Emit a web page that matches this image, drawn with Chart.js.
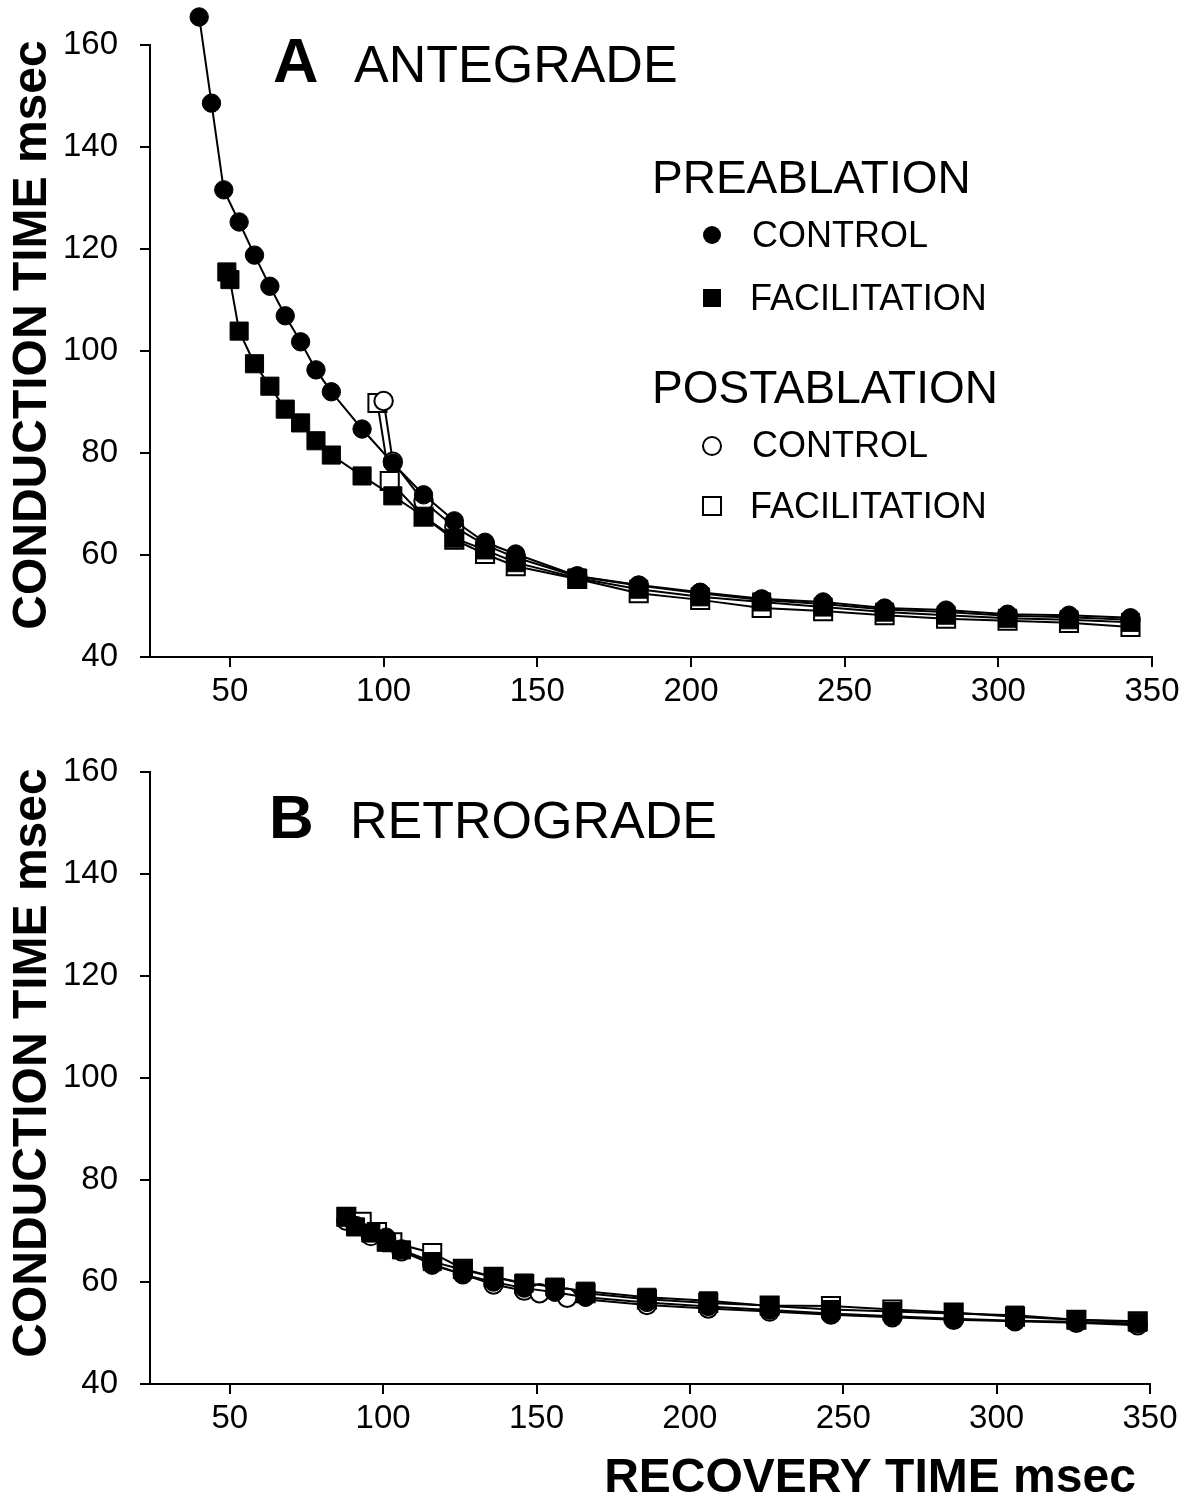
<!DOCTYPE html>
<html><head><meta charset="utf-8">
<script src="https://cdn.jsdelivr.net/npm/chart.js@4.4.0/dist/chart.umd.min.js"></script>
<style>
html,body{margin:0;padding:0;background:#fff;}
body{width:1194px;height:1503px;position:relative;overflow:hidden;}
canvas{position:absolute;left:0;}
#ca{top:0;} #cb{top:730px;}
</style></head><body>
<canvas id="ca" width="1194" height="720"></canvas>
<canvas id="cb" width="1194" height="773"></canvas>
<script>
// ---- tick labels ----
const xTicks = [50,100,150,200,250,300,350];
const yTicks = [40,60,80,100,120,140,160];

// ---- Panel A: ANTEGRADE ----
const aPreCtrlX = [40,44,48,53,58,63,68,73,78,83,93,103,113,123,133,143,163,183,203,223,243,263,283,303,323,343];
const aPreCtrlY = [165.5,148.6,131.6,125.3,118.8,112.7,106.9,101.8,96.3,92,84.7,78,71.8,66.7,62.5,60.2,55.9,54.1,52.7,51.4,50.8,49.6,49.2,48.4,48.2,47.7];
const aPreFacX = [49,50,53,58,63,68,73,78,83,93,103,113,123,133,143,163,183,203,223,243,263,283,303,323,343];
const aPreFacY = [115.5,114,103.9,97.5,93.1,88.6,85.9,82.4,79.6,75.5,71.6,67.6,63.3,61,58.5,55.5,53.3,51.8,50.8,49.8,48.8,48.2,47.6,47.3,46.8];
const aPostCtrlX = [100,103,113,123,133,143,163,183,203,223,243,263,283,303,323,343];
const aPostCtrlY = [90.2,78.3,70.5,65.5,62,59.5,55.8,54,52.5,51.2,50.4,49.3,48.8,48.1,47.8,47.3];
const aPostFacX = [98,102,113,123,133,143,163,183,203,223,243,263,283,303,323,343];
const aPostFacY = [89.8,74.5,67.5,63,60.2,57.8,55.3,52.5,51.2,49.6,49,48.2,47.5,47.1,46.7,45.9];

// ---- Panel B: RETROGRADE ----
const bPreCtrlX = [101,106,116,126,136,146,156,166,186,206,226,246,266,286,306,326,346];
const bPreCtrlY = [68.8,66.5,63.3,61.5,60,58.8,58,57,56,55.2,54.5,53.8,53.3,52.8,52.4,52.2,51.8];
const bPreFacX = [88,91,96,101,106,116,126,136,146,156,166,186,206,226,246,266,286,306,326,346];
const bPreFacY = [72.7,70.8,69.6,67.8,66.3,64,62.4,61,59.8,59,58.2,57,56.3,55.3,54.6,54.2,53.8,53.5,52.6,52.1];
const bPostCtrlX = [88,91,96,101,106,116,126,136,146,151,160,186,206,226,246,266,286,306,326,346];
const bPostCtrlY = [72,71,69,68.5,66,63.5,61.5,59.5,58.3,57.8,56.9,55.5,54.8,54.2,53.6,53.1,52.6,52.3,52,51.5];
const bPostFacX = [88,93,98,103,116,126,136,146,156,166,186,206,226,246,266,286,306,326,346];
const bPostFacY = [72.8,71.8,69.8,67.8,65.7,62.6,61,59.6,58.6,57.8,56.6,55.9,55.4,55.3,54.6,54,53.2,52.6,52.3];

const FONT = '"Liberation Sans", Arial, Helvetica, sans-serif';
const pts = (xs, ys) => xs.map((x, i) => ({x, y: ys[i]}));

function ds(xs, ys, style, filled) {
  return {
    data: pts(xs, ys),
    showLine: true,
    clip: false,
    borderColor: '#000',
    borderWidth: 2,
    tension: 0,
    pointStyle: style,
    pointRadius: style === 'rect' ? 12.8 : 9.2,
    pointBackgroundColor: filled ? '#000' : '#fff',
    pointBorderColor: '#000',
    pointBorderWidth: filled ? 1 : 2
  };
}

// draws points that lie outside the chart area (the library skips them otherwise)
const outsidePoints = {
  id: 'outsidePoints',
  afterDatasetsDraw(chart) {
    const area = chart.chartArea;
    const big = { left: -1e5, top: -1e5, right: 1e5, bottom: 1e5 };
    const metas = chart.getSortedVisibleDatasetMetas();
    for (let i = metas.length - 1; i >= 0; i--) {
      for (const el of metas[i].data) {
        if (el.y < area.top || el.y > area.bottom || el.x < area.left || el.x > area.right) {
          el.draw(chart.ctx, big);
        }
      }
    }
  }
};

function textPlugin(items, marks) {
  return {
    id: 'annot',
    afterDraw(chart) {
      const ctx = chart.ctx;
      ctx.save();
      ctx.fillStyle = '#000';
      ctx.strokeStyle = '#000';
      for (const t of items) {
        ctx.save();
        ctx.font = t.font;
        ctx.textAlign = t.align || 'left';
        ctx.textBaseline = t.base || 'alphabetic';
        ctx.translate(t.x, t.y);
        if (t.rot) ctx.rotate(t.rot);
        ctx.fillText(t.text, 0, 0);
        ctx.restore();
      }
      for (const m of marks || []) {
        ctx.beginPath();
        if (m.shape === 'circle') ctx.arc(m.x, m.y, m.r, 0, Math.PI * 2);
        else ctx.rect(m.x - m.r, m.y - m.r, 2 * m.r, 2 * m.r);
        if (m.filled) { ctx.fillStyle = '#000'; ctx.fill(); }
        else { ctx.fillStyle = '#fff'; ctx.fill(); ctx.lineWidth = 2; ctx.stroke(); }
      }
      ctx.restore();
    }
  };
}

function makeChart(id, datasets, padTop, padRight, xAxisH, items, marks) {
  return new Chart(document.getElementById(id), {
    type: 'scatter',
    data: { datasets },
    options: {
      responsive: false,
      animation: false,
      devicePixelRatio: 1,
      layout: { padding: { top: padTop, right: padRight, left: 0, bottom: 0 } },
      plugins: { legend: { display: false }, tooltip: { enabled: false } },
      scales: {
        x: {
          type: 'linear', min: 24, max: 350,
          afterBuildTicks: s => { s.ticks = xTicks.map(v => ({ value: v })); },
          afterFit: s => { s.height = xAxisH; },
          border: { display: true, color: '#000', width: 2 },
          grid: { display: true, drawOnChartArea: false, drawTicks: true, tickLength: 10, color: '#000', lineWidth: 2 },
          ticks: { color: '#000', font: { family: FONT, size: 33 }, padding: 5, maxRotation: 0, autoSkip: false }
        },
        y: {
          type: 'linear', min: 40, max: 160,
          afterBuildTicks: s => { s.ticks = yTicks.map(v => ({ value: v })); },
          afterFit: s => { s.width = 150; },
          border: { display: true, color: '#000', width: 2 },
          grid: { display: true, drawOnChartArea: false, drawTicks: true, tickLength: 10, color: '#000', lineWidth: 2 },
          ticks: { color: '#000', font: { family: FONT, size: 33 }, padding: 22, autoSkip: false }
        }
      }
    },
    plugins: [outsidePoints, textPlugin(items, marks)]
  });
}

const BOLD48 = 'bold 48px ' + FONT;

makeChart('ca', [
  ds(aPreCtrlX, aPreCtrlY, 'circle', true),
  ds(aPreFacX, aPreFacY, 'rect', true),
  ds(aPostCtrlX, aPostCtrlY, 'circle', false),
  ds(aPostFacX, aPostFacY, 'rect', false)
], 45, 42, 63, [
  { text: 'CONDUCTION TIME msec', x: 33, y: 335, rot: -Math.PI / 2, font: BOLD48, align: 'center', base: 'middle' },
  { text: 'A', x: 273, y: 82, font: 'bold 63px ' + FONT },
  { text: 'ANTEGRADE', x: 354, y: 82, font: '52px ' + FONT },
  { text: 'PREABLATION', x: 652, y: 193, font: '46px ' + FONT },
  { text: 'CONTROL', x: 752, y: 247, font: '36px ' + FONT },
  { text: 'FACILITATION', x: 750, y: 310, font: '36px ' + FONT },
  { text: 'POSTABLATION', x: 652, y: 403, font: '46px ' + FONT },
  { text: 'CONTROL', x: 752, y: 457, font: '36px ' + FONT },
  { text: 'FACILITATION', x: 750, y: 518, font: '36px ' + FONT }
], [
  { shape: 'circle', x: 712, y: 235, r: 9, filled: true },
  { shape: 'rect', x: 712, y: 298, r: 9, filled: true },
  { shape: 'circle', x: 712, y: 446, r: 9, filled: false },
  { shape: 'rect', x: 712, y: 506, r: 9, filled: false }
]);

makeChart('cb', [
  ds(bPreCtrlX, bPreCtrlY, 'circle', true),
  ds(bPreFacX, bPreFacY, 'rect', true),
  ds(bPostCtrlX, bPostCtrlY, 'circle', false),
  ds(bPostFacX, bPostFacY, 'rect', false)
], 42, 44, 119, [
  { text: 'CONDUCTION TIME msec', x: 33, y: 333, rot: -Math.PI / 2, font: BOLD48, align: 'center', base: 'middle' },
  { text: 'B', x: 269, y: 108, font: 'bold 62px ' + FONT },
  { text: 'RETROGRADE', x: 350, y: 108, font: '52px ' + FONT },
  { text: 'RECOVERY TIME msec', x: 870, y: 762, font: BOLD48, align: 'center' }
], []);
</script>
</body></html>
